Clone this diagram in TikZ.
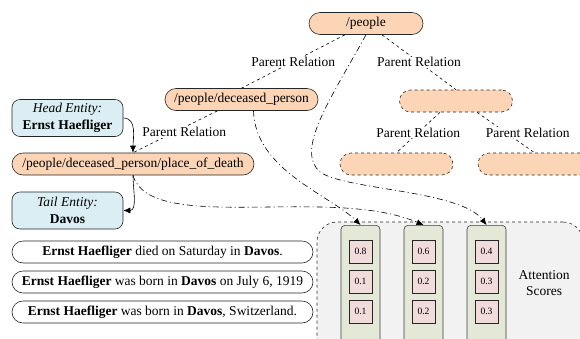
\documentclass[tikz,border=0pt]{standalone}
\usepackage{fontspec}
\setmainfont{Liberation Serif}
\usetikzlibrary{arrows.meta}

\definecolor{peach}{HTML}{FBD5B5}
\definecolor{paleblue}{HTML}{DAEEF3}
\definecolor{palegreen}{HTML}{E3E9D6}
\definecolor{palepink}{HTML}{F2DCDB}
\definecolor{palegray}{HTML}{F2F2F2}

\begin{document}
\begin{tikzpicture}[> = {Latex[length=7pt,width=6pt]}, % arrow head style
	x=1pt, y=-1pt, % picture units follow the page
	semithick % line style
	,every node/.style={font=\fontsize{13.5}{17}\selectfont, inner sep=0pt},
	type/.style={draw=black!85, fill=peach, rounded corners=11pt, minimum height=22pt},
	ghost/.style={type, dashed, minimum width=113pt},
	entity/.style={draw=black!85, fill=paleblue, rounded corners=8pt, minimum width=111pt, minimum height=37pt, align=center},
	sent/.style={draw=black!85, fill=white, rounded corners=11pt, minimum width=301pt, minimum height=22pt},
	rel/.style={fill=white, inner sep=1pt},
	parent/.style={dashed},
	attn/.style={->, dash pattern=on 6pt off 3pt on 1pt off 3pt},
	panel/.style={draw=black!85, dashed, fill=palegray, rounded corners=20pt, minimum width=266pt, minimum height=140pt},
	column/.style={draw=black!75, fill=palegreen, rounded corners=4pt, minimum width=39pt, minimum height=125pt},
	score/.style={draw=black!85, fill=palepink, minimum size=23pt, font=\fontsize{9.6}{11}\selectfont}]
	\useasboundingbox (0,0) rectangle (580,338);

	% type hierarchy
	\node[type, minimum width=114pt] (people) at (366,23.5)	{/people};
	\node[type, minimum width=153pt] (dec) at (241.5,99.5)	{/people/deceased\_person};
	\node[type, minimum width=242pt] (pod) at (133,164)	{/people/deceased\_person/place\_of\_death};
	\node[ghost] (mid) at (456,101) {};
	\node[ghost] (left) at (396.5,164) {};
	\node[ghost] (right) at (534.5,164) {};

	% entities and sentences
	\node[entity] (head) at (67.5,118) {\textit{Head Entity:}\\\textbf{Ernst Haefliger}};
	\node[entity] (tail) at (67.5,210.5) {\textit{Tail Entity:}\\\textbf{Davos}};
	\node[sent] (s1) at (162.5,252) {\textbf{Ernst Haefliger} died on Saturday in \textbf{Davos}.};
	\node[sent] (s2) at (162.5,282) {\textbf{Ernst Haefliger} was born in \textbf{Davos} on July 6, 1919};
	\node[sent] (s3) at (162.5,312) {\textbf{Ernst Haefliger} was born in \textbf{Davos}, Switzerland.};

	% attention scores
	\node[panel] (scores) at (450,292) {};
	\foreach \x/\a/\b/\c [count=\i] in {360.5/0.8/0.1/0.1, 423.5/0.6/0.2/0.2, 486.5/0.4/0.3/0.3} {
		\node[column, anchor=north] (col\i) at (\x,225) {};
		\node[score] (a\i) at (\x,251.5) {\a};
		\node[score] (b\i) at (\x,281.5) {\b};
		\node[score] (c\i) at (\x,311.5) {\c};
	}
	\node[align=center, font=\fontsize{13.5}{15.5}\selectfont] (attn) at (544,283) {Attention\\Scores};

	\draw[parent] ([xshift=-21pt]people.south) -- node[rel] {Parent Relation} (dec.north);
	\draw[parent] ([xshift=16pt]people.south) -- node[rel] {Parent Relation} (mid.north);
	\draw[parent] ([xshift=-16pt]mid.south) -- node[rel] {Parent Relation} (left.north);
	\draw[parent] ([xshift=21pt]mid.south) -- node[rel, xshift=22pt] {Parent Relation} (right.north);
	\draw[parent] ([xshift=-24pt]dec.south) -- node[rel, xshift=9pt] {Parent Relation} (pod.north);

	\draw[->] (head.east) to[out=0,in=90] (pod.north);
	\draw[->] (pod.south) to[out=-90,in=0] (tail.east);

	\draw[attn] ([xshift=12pt]dec.south) .. controls (255,170) and (330,195) .. (col1.north);
	\draw[attn] (pod.south) .. controls (150,235) and (330,185) .. (col2.north);
	\draw[attn] (people.south) .. controls (330,100) and (295,150) .. (320,172)
		.. controls (345,190) and (460,190) .. (col3.north);

\end{tikzpicture}
\end{document}
